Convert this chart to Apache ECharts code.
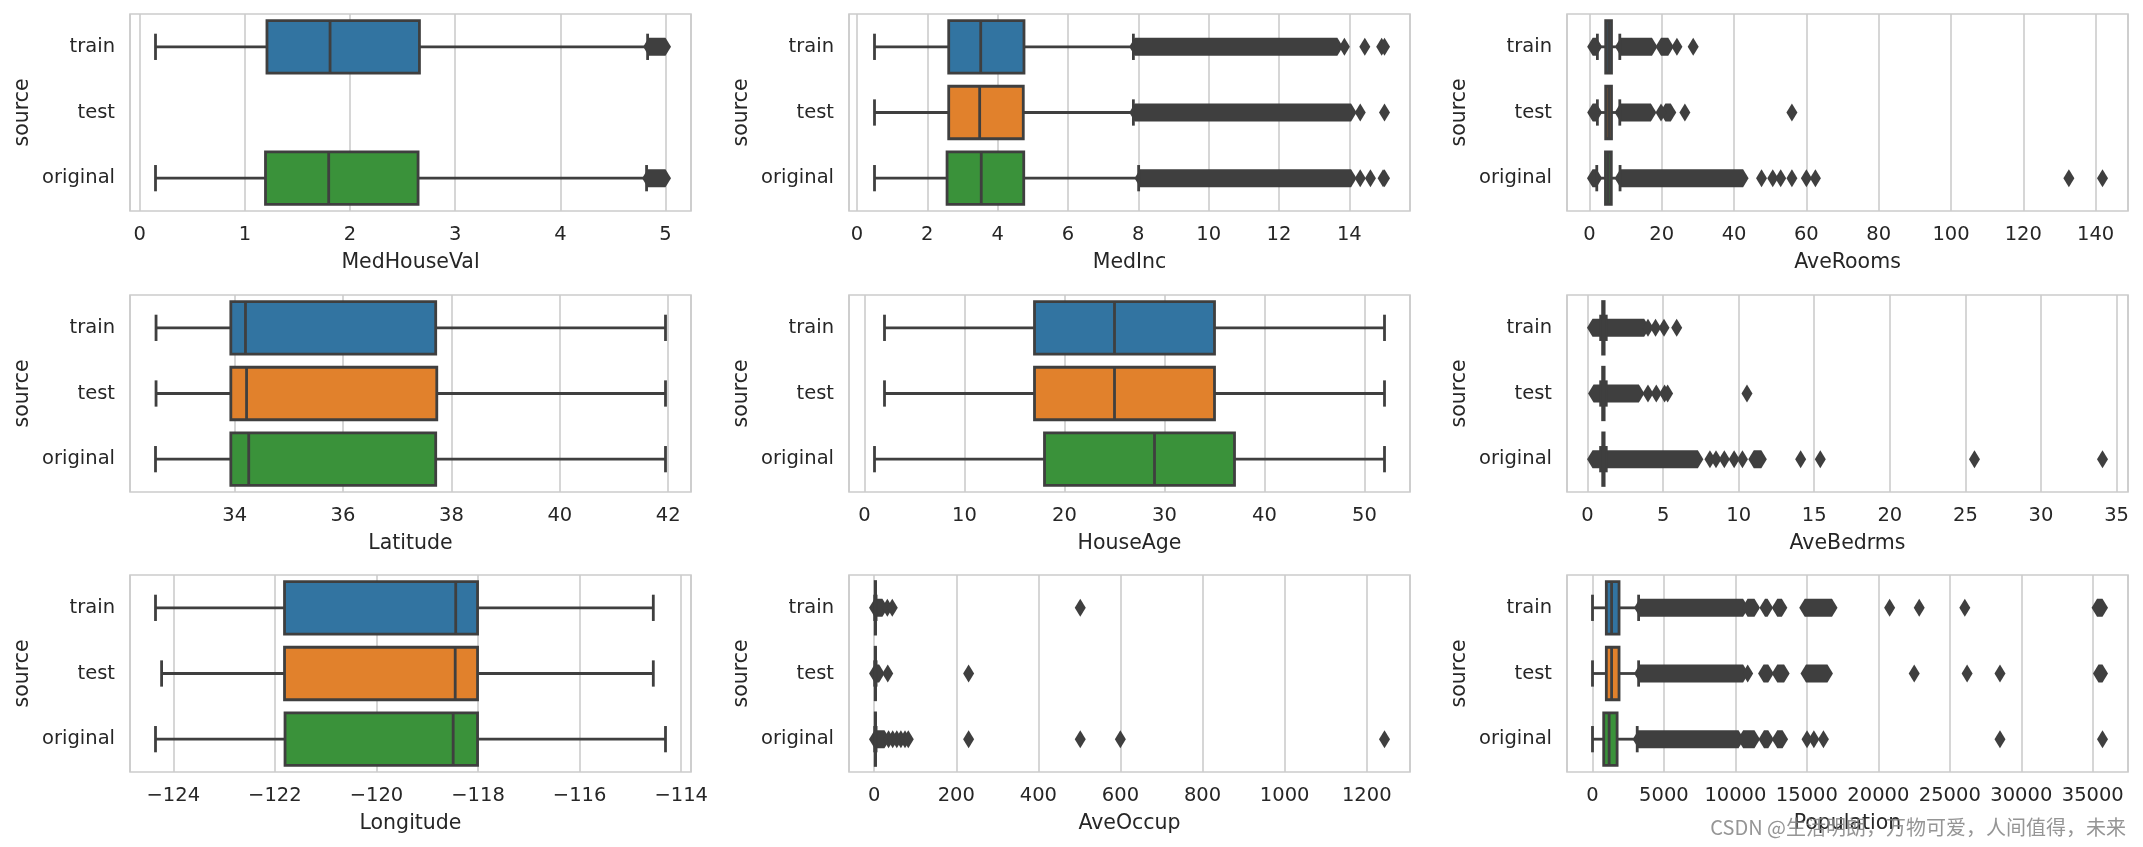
<!DOCTYPE html>
<html><head><meta charset="utf-8">
<script src="https://cdn.jsdelivr.net/npm/echarts@6/dist/echarts.min.js"></script>
<style>html,body{margin:0;padding:0;background:#fff;}#chart{width:2143px;height:847px;}</style>
</head><body><div id="chart"></div>
<script>
// ---------- data ----------
const sources = ['train', 'test', 'original'];
const features = ['MedHouseVal', 'MedInc', 'AveRooms', 'Latitude', 'HouseAge', 'AveBedrms', 'Longitude', 'AveOccup', 'Population'];
const tickSteps = [1, 2, 20, 2, 10, 5, 2, 200, 5000];

// [lower whisker, Q1, median, Q3, upper whisker] per source (train, test, original)
const medHouseValBox = [[0.15, 1.21, 1.81, 2.66, 4.83], null, [0.15, 1.196, 1.797, 2.647, 4.82]];
const medIncBox = [[0.5, 2.61, 3.52, 4.75, 7.86], [0.5, 2.61, 3.49, 4.73, 7.86], [0.5, 2.563, 3.535, 4.743, 8.01]];
const aveRoomsBox = [[2.2, 4.5, 5.3, 6.1, 8.4], [2.2, 4.5, 5.3, 6.1, 8.4], [2.03, 4.44, 5.23, 6.05, 8.47]];
const latitudeBox = [[32.55, 33.93, 34.2, 37.71, 41.95], [32.55, 33.93, 34.22, 37.73, 41.95], [32.54, 33.93, 34.26, 37.71, 41.95]];
const houseAgeBox = [[2, 17, 25, 35, 52], [2, 17, 25, 35, 52], [1, 18, 29, 37, 52]];
const aveBedrmsBox = [[0.87, 1.0, 1.05, 1.1, 1.24], [0.87, 1.0, 1.05, 1.1, 1.24], [0.866, 1.006, 1.049, 1.0995, 1.24]];
const longitudeBox = [[-124.35, -121.81, -118.44, -118.01, -114.55], [-124.23, -121.81, -118.45, -118.01, -114.55], [-124.35, -121.8, -118.49, -118.01, -114.31]];
const aveOccupBox = [[1.16, 2.43, 2.82, 3.28, 4.56], [1.16, 2.43, 2.82, 3.28, 4.56], [1.15, 2.43, 2.82, 3.28, 4.56]];
const populationBox = [[3, 970, 1340, 1860, 3230], [3, 970, 1340, 1860, 3230], [3, 787, 1166, 1725, 3132]];

// dense runs of overlapping outliers [from, to] per source (train, test, original)
const medHouseValRuns = [[[4.84, 5.0]], [], [[4.83, 5.0]]];
const medIncRuns = [[[7.9, 13.66]], [[7.9, 14.05]], [[8.05, 14.05]]];
const aveRoomsRuns = [[[0.9, 2.0], [8.6, 17.3], [19.8, 21.8]], [[0.9, 2.0], [8.5, 17.0], [21.0, 22.5]], [[0.85, 2.0], [8.5, 42.5]]];
const latitudeRuns = [[], [], []];
const houseAgeRuns = [[], [], []];
const aveBedrmsRuns = [[[0.33, 0.86], [1.25, 3.75]], [[0.4, 0.86], [1.25, 3.4]], [[0.333, 0.86], [1.25, 7.3], [11.0, 11.5]]];
const longitudeRuns = [[], [], []];
const aveOccupRuns = [[[0.75, 20]], [[0.8, 12]], [[0.69, 25]]];
const populationRuns = [
  [[3300, 10540], [10850, 11335], [12070, 12250], [12930, 13250], [14850, 16760], [35300, 35682]],
  [[3300, 10540], [11970, 12300], [12930, 13410], [14940, 16440], [35400, 35682]],
  [[3200, 10218], [10540, 11335], [12000, 12300], [12930, 13300]]
];

// individual outliers per source (train, test, original)
const medHouseValOut = [[], [], []];
const medIncOut = [[13.86, 14.44, 14.92, 15.0], [14.31, 15.0], [14.31, 14.6, 14.96, 15.0]];
const aveRoomsOut = [[24.2, 28.7], [19.8, 26.4, 56], [47.6, 50.7, 52.9, 56, 60, 62.5, 132.6, 141.9]];
const latitudeOut = [[], [], []];
const houseAgeOut = [[], [], []];
const aveBedrmsOut = [[4.0, 4.5, 5.06, 5.9], [4.0, 4.55, 5.1, 5.3, 10.55], [8.1, 8.5, 9.05, 9.7, 10.25, 14.1, 15.4, 25.6, 34.07]];
const longitudeOut = [[], [], []];
const aveOccupOut = [[32, 44, 502], [33, 230], [35, 45, 55, 65, 75, 83, 230, 502, 599.7, 1243.3]];
const populationOut = [[20790, 22860, 26050], [10860, 22510, 26210, 28510], [15010, 15490, 16160, 28510, 35682]];

const boxStats = [medHouseValBox, medIncBox, aveRoomsBox, latitudeBox, houseAgeBox, aveBedrmsBox, longitudeBox, aveOccupBox, populationBox];
const runs = [medHouseValRuns, medIncRuns, aveRoomsRuns, latitudeRuns, houseAgeRuns, aveBedrmsRuns, longitudeRuns, aveOccupRuns, populationRuns];
const outliers = [medHouseValOut, medIncOut, aveRoomsOut, latitudeOut, houseAgeOut, aveBedrmsOut, longitudeOut, aveOccupOut, populationOut];

// ---------- style / layout ----------
const palette = ['#3274a1', '#e1812c', '#3a923a'];
const lineColor = '#3f3f3f';
const textColor = '#262626';
const gridColor = '#cccccc';
const fontFamily = 'DejaVu Sans';
const colLeft = [130, 849, 1567];
const rowTop = [14, 295, 575];
const panelW = 561, panelH = 197;
const lw = 2.8;
const diamondW = 11, diamondH = 18;

function domainOf(i) {
  let lo = Infinity, hi = -Infinity;
  const take = v => { lo = Math.min(lo, v); hi = Math.max(hi, v); };
  boxStats[i].forEach(b => { if (b) { take(b[0]); take(b[4]); } });
  outliers[i].forEach(a => a.forEach(take));
  runs[i].forEach(a => a.forEach(p => { take(p[0]); take(p[1]); }));
  const pad = (hi - lo) * 0.05;
  return [lo - pad, hi + pad];
}
function labelFormatter(step) {
  return function (v) {
    const k = v / step;
    if (Math.abs(k - Math.round(k)) > 1e-6) return '';
    const r = Math.round(k) * step;
    const s = String(Math.abs(r));
    return r < 0 ? '\u2212' + s : s;
  };
}
function renderBox(params, api) {
  const cat = api.value(0);
  const v = [api.value(1), api.value(2), api.value(3), api.value(4), api.value(5)];
  const xs = v.map(val => api.coord([val, cat])[0]);
  const yc = api.coord([v[2], cat])[1];
  const band = api.size([0, 1])[1];
  const h = band * 0.8;
  const st = { stroke: lineColor, lineWidth: lw, fill: null };
  return {
    type: 'group',
    children: [
      { type: 'line', shape: { x1: xs[0], y1: yc, x2: xs[1], y2: yc }, style: st },
      { type: 'line', shape: { x1: xs[3], y1: yc, x2: xs[4], y2: yc }, style: st },
      { type: 'line', shape: { x1: xs[0], y1: yc - h / 4, x2: xs[0], y2: yc + h / 4 }, style: st },
      { type: 'line', shape: { x1: xs[4], y1: yc - h / 4, x2: xs[4], y2: yc + h / 4 }, style: st },
      { type: 'rect', shape: { x: xs[1], y: yc - h / 2, width: xs[3] - xs[1], height: h }, style: { fill: palette[cat], stroke: lineColor, lineWidth: lw } },
      { type: 'line', shape: { x1: xs[2], y1: yc - h / 2, x2: xs[2], y2: yc + h / 2 }, style: st }
    ]
  };
}
function renderRun(params, api) {
  const cat = api.value(0);
  const a = api.coord([api.value(1), cat]);
  const b = api.coord([api.value(2), cat]);
  const hw = diamondW / 2, hh = diamondH / 2;
  return {
    type: 'polygon',
    shape: { points: [[a[0] - hw, a[1]], [a[0], a[1] - hh], [b[0], b[1] - hh], [b[0] + hw, b[1]], [b[0], b[1] + hh], [a[0], a[1] + hh]] },
    style: { fill: lineColor }
  };
}

const grids = [], xAxes = [], yAxes = [], series = [];
features.forEach((name, i) => {
  const r = Math.floor(i / 3), c = i % 3;
  grids.push({ left: colLeft[c], top: rowTop[r], width: panelW, height: panelH, show: true,
    borderColor: gridColor, borderWidth: 1.6, backgroundColor: 'transparent', containLabel: false, outerBoundsMode: 'none' });
  const d = domainOf(i);
  xAxes.push({
    gridIndex: i, type: 'value', min: d[0], max: d[1], minInterval: tickSteps[i], maxInterval: tickSteps[i],
    name: name, nameLocation: 'middle', nameGap: 41,
    nameTextStyle: { fontFamily, fontSize: 20.5, color: textColor },
    axisLine: { show: false }, axisTick: { show: false },
    axisLabel: { margin: 14, fontFamily, fontSize: 19.5, color: textColor, formatter: labelFormatter(tickSteps[i]) },
    splitLine: { show: true, lineStyle: { color: gridColor, width: 1.6 } }
  });
  yAxes.push({
    gridIndex: i, type: 'category', data: sources, inverse: true,
    name: 'source', nameLocation: 'middle', nameGap: 97, nameRotate: 90,
    nameTextStyle: { fontFamily, fontSize: 20.5, color: textColor },
    axisLine: { show: false }, axisTick: { show: false },
    axisLabel: { margin: 15, fontFamily, fontSize: 19.5, color: textColor },
    splitLine: { show: false }
  });
  const boxData = [];
  boxStats[i].forEach((b, s) => { if (b) boxData.push([s].concat(b)); });
  const runData = [];
  runs[i].forEach((a, s) => a.forEach(p => runData.push([s, p[0], p[1]])));
  const pts = [];
  outliers[i].forEach((a, s) => a.forEach(v => pts.push([v, s])));
  series.push({ type: 'custom', xAxisIndex: i, yAxisIndex: i, renderItem: renderRun,
    encode: { x: [1, 2], y: 0 }, data: runData, z: 2, silent: true });
  series.push({ type: 'scatter', xAxisIndex: i, yAxisIndex: i, symbol: 'diamond', symbolSize: [diamondW, diamondH],
    itemStyle: { color: lineColor, opacity: 1 }, data: pts, z: 2, silent: true });
  series.push({ type: 'custom', xAxisIndex: i, yAxisIndex: i, renderItem: renderBox,
    encode: { x: [1, 2, 3, 4, 5], y: 0 }, data: boxData, z: 3, silent: true });
});

const chart = echarts.init(document.getElementById('chart'), null, { renderer: 'canvas' });
chart.setOption({
  animation: false,
  backgroundColor: '#ffffff',
  grid: grids, xAxis: xAxes, yAxis: yAxes, series: series,
  graphic: [{
    type: 'text', right: 17, bottom: 10, z: 100,
    style: { text: 'CSDN @生活明朗，万物可爱，人间值得，未来', fill: 'rgba(130,130,130,0.85)',
      font: '20px "Noto Sans CJK SC"' }
  }]
});
</script></body></html>
